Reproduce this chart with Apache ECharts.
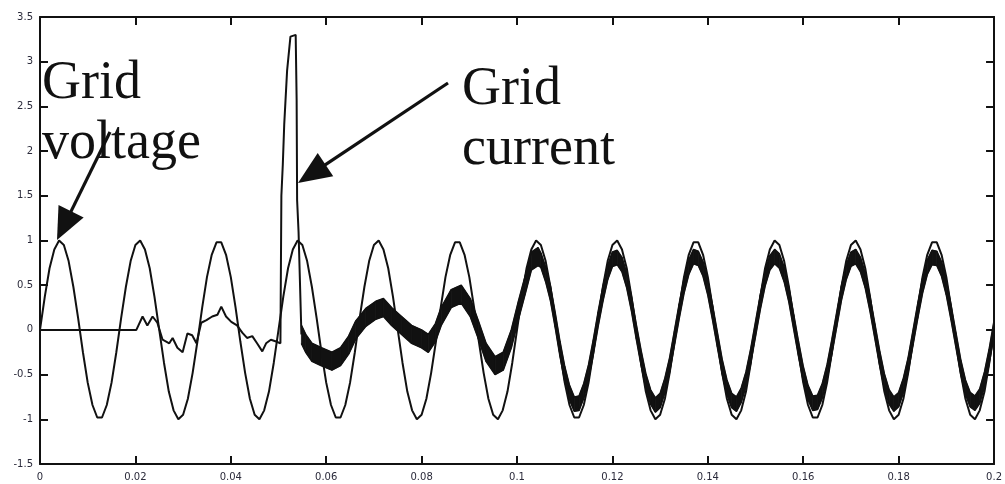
<!DOCTYPE html>
<html>
<head>
<meta charset="utf-8">
<title>Grid voltage and grid current</title>
<script src="https://cdn.jsdelivr.net/npm/echarts@6/dist/echarts.min.js"></script>
<style>
  html, body { margin: 0; padding: 0; background: #fff; }
  #chart { width: 1005px; height: 484px; }
</style>
</head>
<body>
<div id="chart"></div>
<script>
// Tick labels of both axes
const xTickLabels = ['0', '0.02', '0.04', '0.06', '0.08', '0.1', '0.12', '0.14', '0.16', '0.18', '0.2'];
const yTickLabels = ['-1.5', '-1', '-0.5', '0', '0.5', '1', '1.5', '2', '2.5', '3', '3.5'];

// Grid voltage (p.u.), one sample every 1 ms from t = 0 s to t = 0.2 s
const voltageStep = 0.001;
const voltageValues = [
  0, 0.37, 0.69, 0.9, 1, 0.95, 0.77, 0.48, 0.13, -0.25, -0.59, -0.84, -0.98, -0.98, -0.84, -0.59, -0.25, 0.13, 0.48, 0.77, 0.95, 1, 0.9, 0.69, 0.37,
  0, -0.37, -0.69, -0.9, -1, -0.95, -0.77, -0.48, -0.13, 0.25, 0.59, 0.84, 0.98, 0.98, 0.84, 0.59, 0.25, -0.13, -0.48, -0.77, -0.95, -1, -0.9, -0.69, -0.37,
  0, 0.37, 0.69, 0.9, 1, 0.95, 0.77, 0.48, 0.13, -0.25, -0.59, -0.84, -0.98, -0.98, -0.84, -0.59, -0.25, 0.13, 0.48, 0.77, 0.95, 1, 0.9, 0.69, 0.37,
  0, -0.37, -0.69, -0.9, -1, -0.95, -0.77, -0.48, -0.13, 0.25, 0.59, 0.84, 0.98, 0.98, 0.84, 0.59, 0.25, -0.13, -0.48, -0.77, -0.95, -1, -0.9, -0.69, -0.37,
  0, 0.37, 0.69, 0.9, 1, 0.95, 0.77, 0.48, 0.13, -0.25, -0.59, -0.84, -0.98, -0.98, -0.84, -0.59, -0.25, 0.13, 0.48, 0.77, 0.95, 1, 0.9, 0.69, 0.37,
  0, -0.37, -0.69, -0.9, -1, -0.95, -0.77, -0.48, -0.13, 0.25, 0.59, 0.84, 0.98, 0.98, 0.84, 0.59, 0.25, -0.13, -0.48, -0.77, -0.95, -1, -0.9, -0.69, -0.37,
  0, 0.37, 0.69, 0.9, 1, 0.95, 0.77, 0.48, 0.13, -0.25, -0.59, -0.84, -0.98, -0.98, -0.84, -0.59, -0.25, 0.13, 0.48, 0.77, 0.95, 1, 0.9, 0.69, 0.37,
  0, -0.37, -0.69, -0.9, -1, -0.95, -0.77, -0.48, -0.13, 0.25, 0.59, 0.84, 0.98, 0.98, 0.84, 0.59, 0.25, -0.13, -0.48, -0.77, -0.95, -1, -0.9, -0.69, -0.37,
  0
];

// Grid current (p.u.): start-up, inrush spike and the transient before steady state
const currentStartTime = [
  0, 0.0202, 0.0215, 0.0225, 0.0236, 0.0246, 0.0257, 0.0271, 0.0278, 0.0288, 0.0299, 0.0309, 0.0319, 0.0328,
  0.0338, 0.0349, 0.0361, 0.0372, 0.038, 0.039, 0.0401, 0.0413, 0.0424, 0.0434, 0.0445, 0.0455, 0.0466, 0.0474,
  0.0484, 0.0495, 0.0504, 0.0506, 0.0509, 0.0512, 0.0518, 0.0525, 0.0536, 0.0538, 0.0539, 0.0542, 0.0548
];
const currentStartValue = [
  0, 0, 0.15, 0.05, 0.15, 0.08, -0.11, -0.15, -0.09, -0.2, -0.25, -0.04, -0.06, -0.15,
  0.08, 0.11, 0.15, 0.17, 0.26, 0.15, 0.09, 0.05, -0.03, -0.09, -0.07, -0.15, -0.24, -0.15,
  -0.11, -0.13, -0.15, 1.5, 1.85, 2.3, 2.9, 3.28, 3.3, 2.57, 1.45, 1.1, -0.05
];
const currentTransientTime = [
  0.0548, 0.0557, 0.057, 0.059, 0.0612, 0.063, 0.0647, 0.0662, 0.0683, 0.0704, 0.072, 0.0737, 0.0758, 0.0779,
  0.08, 0.0814, 0.0829, 0.0841, 0.0862, 0.0883, 0.0902, 0.0919, 0.0935, 0.0954, 0.0971, 0.0988, 0.1002, 0.1017,
  0.103, 0.1044
];
const currentTransientValue = [
  -0.05, -0.15, -0.25, -0.3, -0.35, -0.3, -0.17, 0, 0.14, 0.22, 0.25, 0.15, 0.05, -0.05,
  -0.1, -0.15, -0.03, 0.15, 0.35, 0.4, 0.25, 0, -0.25, -0.4, -0.35, -0.1, 0.2, 0.5,
  0.77, 0.82
];
// Steady-state current, one sample every 1 ms from t = 0.105 s
const currentSteadyStart = 0.105;
const currentSteadyStep = 0.001;
const currentSteadyValue = [
  0.78, 0.62, 0.41, 0.11, -0.21, -0.49, -0.7, -0.83, -0.82, -0.68, -0.47, -0.19, 0.12, 0.4, 0.64,
  0.79, 0.81, 0.73, 0.55, 0.29, -0.02, -0.31, -0.57, -0.75, -0.84, -0.79, -0.62, -0.39, -0.09, 0.21,
  0.49, 0.7, 0.82, 0.8, 0.68, 0.47, 0.19, -0.11, -0.41, -0.64, -0.79, -0.83, -0.73, -0.55, -0.29,
  0.01, 0.31, 0.57, 0.75, 0.82, 0.77, 0.62, 0.39, 0.09, -0.21, -0.49, -0.7, -0.82, -0.81, -0.68,
  -0.47, -0.19, 0.11, 0.41, 0.64, 0.79, 0.82, 0.73, 0.55, 0.29, -0.01, -0.31, -0.57, -0.75, -0.83,
  -0.78, -0.62, -0.39, -0.09, 0.21, 0.49, 0.7, 0.81, 0.8, 0.68, 0.47, 0.19, -0.11, -0.41, -0.64,
  -0.78, -0.82, -0.74, -0.55, -0.29, 0.02
];
// Half height of the switching-ripple band around the current after the spike (p.u.)
const rippleHalfTransient = 0.1;
const rippleHalfSteady = 0.08;

// Build [t, value] pairs for the line series
const round4 = v => Math.round(v * 10000) / 10000;
const voltageData = voltageValues.map((v, i) => [round4(i * voltageStep), v]);
const currentThinData = currentStartTime.map((t, i) => [t, currentStartValue[i]]);
const currentRippleData = currentTransientTime.map((t, i) => [t, currentTransientValue[i]])
  .concat(currentSteadyValue.map((v, i) => [round4(currentSteadyStart + i * currentSteadyStep), v]));
const rippleHalfAt = i => (i < currentTransientTime.length ? rippleHalfTransient : rippleHalfSteady);
const rippleLower = currentRippleData.map(([t, v], i) => [t, round4(v - rippleHalfAt(i))]);
const rippleUpper = currentRippleData.map(([t, v], i) => [t, round4(v + rippleHalfAt(i))]);

const ink = '#111';
const labelStyle = { color: '#2a2a3a', fontSize: 10, fontFamily: 'DejaVu Sans' };

const xFmt = v => {
  const i = Math.round(v / 0.02);
  return xTickLabels[i] !== undefined ? xTickLabels[i] : '';
};
const yFmt = v => {
  const i = Math.round((v + 1.5) / 0.5);
  return yTickLabels[i] !== undefined ? yTickLabels[i] : '';
};

const frameAxis = {
  axisLine: { show: true, onZero: false, lineStyle: { color: ink, width: 2 } },
  axisTick: { show: true, inside: true, length: 8, lineStyle: { color: ink, width: 2 } },
  splitLine: { show: false }
};

// Filled ripple band: one quad between consecutive samples, lower edge to upper edge
function renderRippleBand(params, api) {
  const i = params.dataIndex;
  if (i >= rippleLower.length - 1) return null;
  const pts = [
    api.coord(rippleLower[i]), api.coord(rippleLower[i + 1]),
    api.coord(rippleUpper[i + 1]), api.coord(rippleUpper[i])
  ];
  return {
    type: 'polygon',
    shape: { points: pts },
    style: { fill: ink, stroke: ink, lineWidth: 0.8 }
  };
}

const chart = echarts.init(document.getElementById('chart'), null, { renderer: 'canvas' });

// Arrow geometry for the two annotations
function arrow(tail, tip, headLen, headHalf) {
  const dx = tip[0] - tail[0], dy = tip[1] - tail[1];
  const len = Math.hypot(dx, dy);
  const ux = dx / len, uy = dy / len;
  const bx = tip[0] - ux * headLen, by = tip[1] - uy * headLen;
  const nx = -uy, ny = ux;
  return [
    { type: 'line', z: 100, shape: { x1: tail[0], y1: tail[1], x2: bx + ux * 4, y2: by + uy * 4 },
      style: { stroke: ink, lineWidth: 3.2 } },
    { type: 'polygon', z: 100, shape: { points: [tip, [bx + nx * headHalf, by + ny * headHalf], [bx - nx * headHalf, by - ny * headHalf]] },
      style: { fill: ink } }
  ];
}

const textFont = '54px "Liberation Serif", "Times New Roman", serif';

chart.setOption({
  animation: false,
  backgroundColor: '#fff',
  grid: { left: 40, right: 7, top: 17, bottom: 20, containLabel: false },
  xAxis: [
    Object.assign({
      type: 'value', min: 0, max: 0.2, interval: 0.02, position: 'bottom',
      axisLabel: Object.assign({ margin: 8, formatter: xFmt }, labelStyle)
    }, frameAxis),
    Object.assign({
      type: 'value', min: 0, max: 0.2, interval: 0.02, position: 'top',
      axisLabel: { show: false }
    }, frameAxis)
  ],
  yAxis: [
    Object.assign({
      type: 'value', min: -1.5, max: 3.5, interval: 0.5, position: 'left',
      axisLabel: Object.assign({ margin: 7, formatter: yFmt }, labelStyle)
    }, frameAxis),
    Object.assign({
      type: 'value', min: -1.5, max: 3.5, interval: 0.5, position: 'right',
      axisLabel: { show: false }
    }, frameAxis)
  ],
  series: [
    {
      name: 'Grid voltage', type: 'line', data: voltageData, showSymbol: false, symbol: 'none',
      lineStyle: { color: ink, width: 2 }, z: 2
    },
    {
      name: 'Grid current', type: 'line', data: currentThinData, showSymbol: false, symbol: 'none',
      lineStyle: { color: ink, width: 2 }, z: 3
    },
    {
      name: 'Ripple band', type: 'custom', coordinateSystem: 'cartesian2d',
      data: currentRippleData, encode: { x: 0, y: 1 }, renderItem: renderRippleBand, z: 3
    },
    {
      name: 'Ripple lower edge', type: 'line', data: rippleLower, showSymbol: false, symbol: 'none',
      lineStyle: { color: ink, width: 1.6 }, z: 3
    },
    {
      name: 'Ripple upper edge', type: 'line', data: rippleUpper, showSymbol: false, symbol: 'none',
      lineStyle: { color: ink, width: 1.6 }, z: 3
    }
  ],
  graphic: [
    { type: 'text', z: 100, style: { text: 'Grid', x: 42, y: 57, font: textFont, fill: ink, textVerticalAlign: 'alphabetic', verticalAlign: 'alphabetic' } },
    { type: 'text', z: 100, style: { text: 'voltage', x: 42, y: 117, font: textFont, fill: ink, textVerticalAlign: 'alphabetic', verticalAlign: 'alphabetic' } },
    { type: 'text', z: 100, style: { text: 'Grid', x: 462, y: 63, font: textFont, fill: ink, textVerticalAlign: 'alphabetic', verticalAlign: 'alphabetic' } },
    { type: 'text', z: 100, style: { text: 'current', x: 462, y: 123, font: textFont, fill: ink, textVerticalAlign: 'alphabetic', verticalAlign: 'alphabetic' } }
  ].concat(arrow([110, 132], [57, 240], 32, 14), arrow([448, 83], [298, 183], 33, 14))
});
</script>
</body>
</html>
